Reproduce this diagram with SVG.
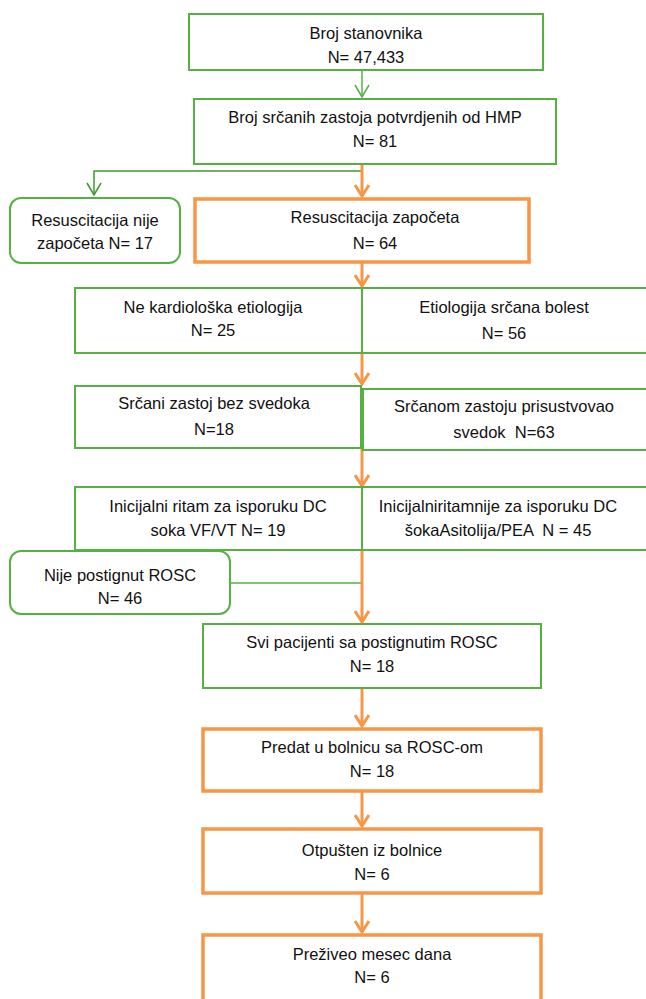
<svg xmlns="http://www.w3.org/2000/svg" width="646" height="999" viewBox="0 0 646 999">
<style>
.g{fill:#fff;stroke:#55b143;stroke-width:2}
.o{fill:#fff;stroke:#f79646;stroke-width:3.5}
.t{font-family:"Liberation Sans",Arial,sans-serif;font-size:16.5px;fill:#111;text-anchor:middle;white-space:pre}
.ol{stroke:#f79646;stroke-width:3;fill:none}
.gl{stroke:#55b143;stroke-width:1.5;fill:none}
.gd{stroke:#3e9a30;stroke-width:1.5;fill:none}
</style>
<defs>
<marker id="ao" viewBox="0 0 16 16" refX="14" refY="8" markerWidth="16" markerHeight="16" markerUnits="userSpaceOnUse" orient="auto"><path d="M3,1 L14,8 L3,15" fill="none" stroke="#f79646" stroke-width="3"/></marker>
<marker id="ag" viewBox="0 0 16 16" refX="14" refY="8" markerWidth="16" markerHeight="16" markerUnits="userSpaceOnUse" orient="auto"><path d="M2,1 L14,8 L2,15" fill="none" stroke="#55b143" stroke-width="1.5"/></marker>
<marker id="agd" viewBox="0 0 16 16" refX="14" refY="8" markerWidth="16" markerHeight="16" markerUnits="userSpaceOnUse" orient="auto"><path d="M2,1 L14,8 L2,15" fill="none" stroke="#3e9a30" stroke-width="1.5"/></marker>
</defs>
<g id="connectors">
<line class="gl" x1="362" y1="70" x2="362" y2="97" marker-end="url(#ag)"/>
<polyline class="gd" points="362,171 94,171 94,195" marker-end="url(#agd)"/>
<line class="ol" x1="362" y1="164" x2="362" y2="196" marker-end="url(#ao)"/>
<line class="ol" x1="362" y1="262" x2="362" y2="286" marker-end="url(#ao)"/>
<line class="ol" x1="362" y1="353" x2="362" y2="384" marker-end="url(#ao)"/>
<line class="ol" x1="362" y1="449" x2="362" y2="486" marker-end="url(#ao)"/>
<line class="gl" x1="230" y1="583" x2="362" y2="583"/>
<line class="ol" x1="362" y1="550" x2="362" y2="622" marker-end="url(#ao)"/>
<line class="ol" x1="362" y1="688" x2="362" y2="726" marker-end="url(#ao)"/>
<line class="ol" x1="362" y1="792" x2="362" y2="826" marker-end="url(#ao)"/>
<line class="ol" x1="362" y1="894" x2="362" y2="932" marker-end="url(#ao)"/>
</g>
<g id="n1"><rect class="g" x="189" y="14" width="354" height="56"/><text class="t" x="366" y="39">Broj stanovnika</text><text class="t" x="366" y="63">N= 47,433</text></g>
<g id="n2"><rect class="g" x="194" y="99" width="362" height="65"/><text class="t" x="375" y="123">Broj srčanih zastoja potvrdjenih od HMP</text><text class="t" x="375" y="147">N= 81</text></g>
<g id="n3"><rect class="g" x="10" y="198" width="170" height="65" rx="11"/><text class="t" x="95" y="226">Resuscitacija nije</text><text class="t" x="95" y="249">započeta N= 17</text></g>
<g id="n4"><rect class="o" x="195" y="199" width="334" height="63"/><text class="t" x="375" y="223">Resuscitacija započeta</text><text class="t" x="375" y="249">N= 64</text></g>
<g id="n5"><rect class="g" x="75" y="288" width="287" height="65"/><text class="t" x="213" y="313">Ne kardiološka etiologija</text><text class="t" x="213" y="336">N= 25</text></g>
<g id="n6"><rect class="g" x="362" y="288" width="290" height="65"/><text class="t" x="504" y="313">Etiologija srčana bolest</text><text class="t" x="504" y="339">N= 56</text></g>
<g id="n7"><rect class="g" x="75" y="386" width="286" height="62"/><text class="t" x="214" y="409">Srčani zastoj bez svedoka</text><text class="t" x="214" y="435">N=18</text></g>
<g id="n8"><rect class="g" x="363" y="389" width="289" height="61"/><text class="t" x="504" y="412">Srčanom zastoju prisustvovao</text><text class="t" x="504" y="438" xml:space="preserve">svedok  N=63</text></g>
<g id="n9"><rect class="g" x="75" y="487" width="287" height="63"/><text class="t" x="218" y="512">Inicijalni ritam za isporuku DC</text><text class="t" x="218" y="536">soka VF/VT N= 19</text></g>
<g id="n10"><rect class="g" x="362" y="487" width="290" height="63"/><text class="t" x="498" y="512">Inicijalniritamnije za isporuku DC</text><text class="t" x="498" y="536" xml:space="preserve">šokaAsitolija/PEA  N = 45</text></g>
<g id="n11"><rect class="g" x="10" y="551" width="220" height="63" rx="11"/><text class="t" x="120" y="581">Nije postignut ROSC</text><text class="t" x="120" y="604">N= 46</text></g>
<g id="n12"><rect class="g" x="203" y="624" width="338" height="64"/><text class="t" x="372" y="648">Svi pacijenti sa postignutim ROSC</text><text class="t" x="372" y="672">N= 18</text></g>
<g id="n13"><rect class="o" x="203" y="729" width="338" height="62"/><text class="t" x="372" y="753">Predat u bolnicu sa ROSC-om</text><text class="t" x="372" y="777">N= 18</text></g>
<g id="n14"><rect class="o" x="203" y="829" width="338" height="64"/><text class="t" x="372" y="856">Otpušten iz bolnice</text><text class="t" x="372" y="880">N= 6</text></g>
<g id="n15"><rect class="o" x="203" y="935" width="338" height="70"/><text class="t" x="372" y="960">Preživeo mesec dana</text><text class="t" x="372" y="983">N= 6</text></g>
</svg>
